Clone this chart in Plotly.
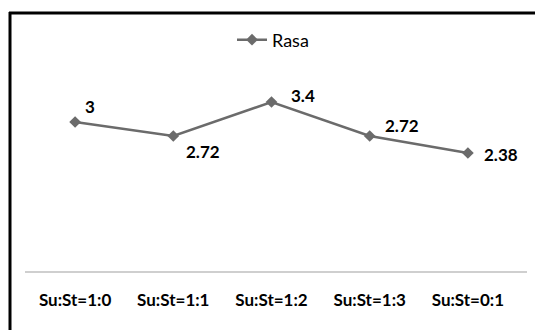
import plotly.graph_objects as go

categories = ["Su:St=1:0", "Su:St=1:1", "Su:St=1:2", "Su:St=1:3", "Su:St=0:1"]
values = [3, 2.72, 3.4, 2.72, 2.38]
labels = ["3", "2.72", "3.4", "2.72", "2.38"]
series_name = "Rasa"

# label offsets (px) relative to each point
label_dx = [8, 11, 17, 13, 14]
label_dy = [16, -15, 7, 11, -1]

LINE = "#6b6b6b"
FONT = "Lato"

fig = go.Figure()
fig.add_trace(go.Scatter(
    x=list(range(len(categories))), y=values, mode="lines+markers", name=series_name,
    line=dict(color=LINE, width=2.5),
    marker=dict(symbol="diamond", size=9, color=LINE),
))

for i, (v, t) in enumerate(zip(values, labels)):
    fig.add_annotation(x=i, y=v, text=f"<b>{t}</b>", showarrow=False,
                       xanchor="left", yanchor="middle",
                       xshift=label_dx[i], yshift=label_dy[i],
                       font=dict(family=FONT, size=17, color="#000000"))

L, R, T, B = 26, 18, 72, 58
W, H = 535, 330
pw, ph = W - L - R, H - T - B

def px(x):
    return (x - L) / pw

def py(y):
    return (H - B - y) / ph

shapes = [
    # axis line
    dict(type="line", xref="paper", yref="paper", x0=px(25), x1=px(527), y0=0, y1=0,
         line=dict(color="#bfbfbf", width=1.5)),
    # frame top
    dict(type="line", xref="paper", yref="paper", x0=px(9), x1=px(540), y0=py(13), y1=py(13),
         line=dict(color="#000000", width=3)),
    # frame left
    dict(type="line", xref="paper", yref="paper", x0=px(10), x1=px(10), y0=py(12), y1=py(340),
         line=dict(color="#000000", width=3)),
]

fig.update_layout(
    width=W, height=H,
    margin=dict(l=L, r=R, t=T, b=B),
    paper_bgcolor="white", plot_bgcolor="white",
    showlegend=True,
    legend=dict(x=px(273), y=py(40), xanchor="center", yanchor="middle",
                orientation="h", font=dict(family=FONT, size=18, color="#000000"),
                bgcolor="rgba(0,0,0,0)", itemwidth=30),
    xaxis=dict(range=[-0.5, len(categories) - 0.5], tickmode="array",
               tickvals=list(range(len(categories))),
               ticktext=[f"<b>{c}</b>" for c in categories],
               showgrid=False, zeroline=False, showline=False, ticks="",
               ticklabelstandoff=16,
               tickfont=dict(family=FONT, size=17, color="#000000")),
    yaxis=dict(range=[0, 4], visible=False, showgrid=False, zeroline=False),
    shapes=shapes,
)

fig.write_html("out.html")
